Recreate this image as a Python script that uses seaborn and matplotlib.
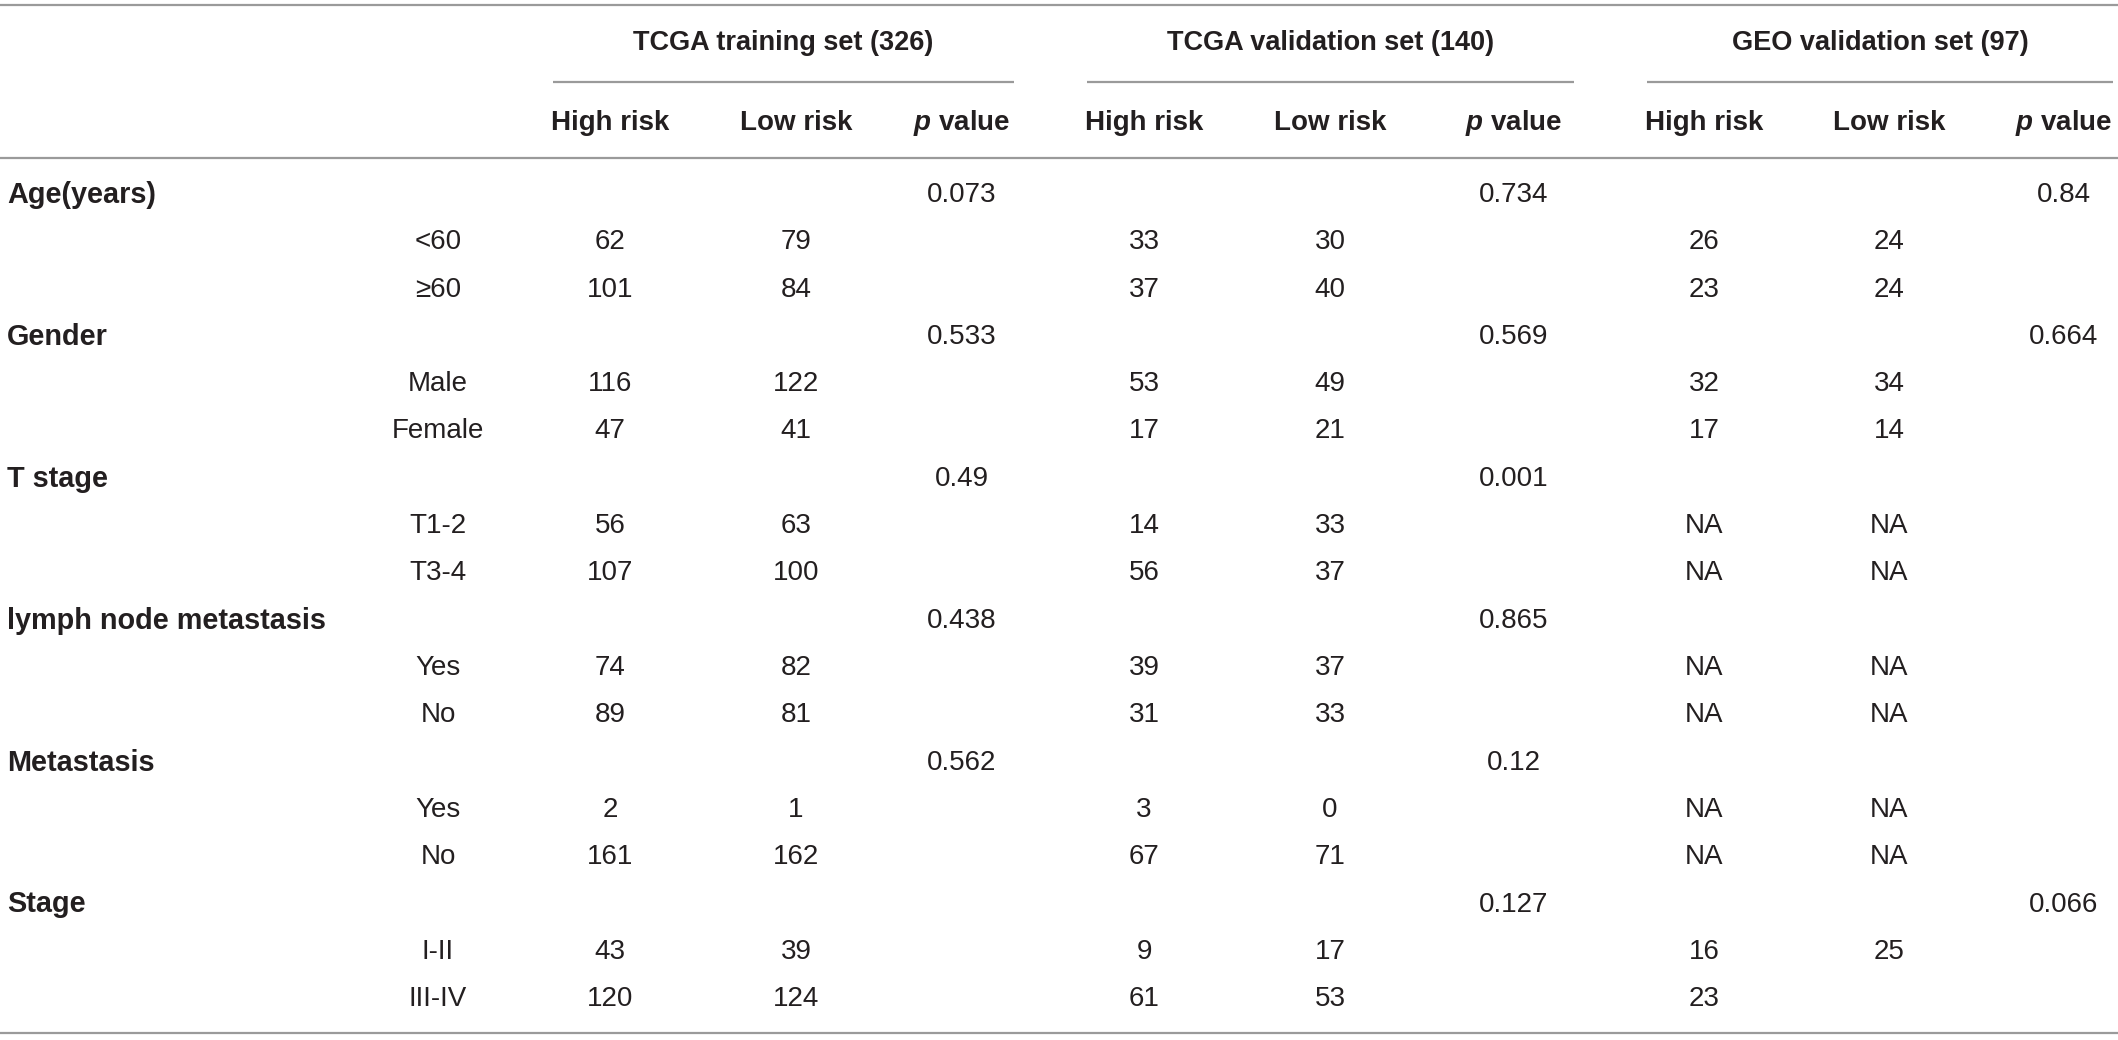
import matplotlib
matplotlib.use("Agg")
import matplotlib.pyplot as plt
import seaborn as sns
import pandas as pd

# ---------------- data ----------------
group_headers = ["TCGA training set (326)", "TCGA validation set (140)", "GEO validation set (97)"]
sub_headers = ["High risk", "Low risk", "$p$ value"]

variables = ["Age(years)", "Gender", "T stage", "lymph node metastasis", "Metastasis", "Stage"]
levels = [["<60", "≥60"], ["Male", "Female"], ["T1-2", "T3-4"], ["Yes", "No"], ["Yes", "No"], ["I-II", "III-IV"]]

train_p = ["0.073", "0.533", "0.49", "0.438", "0.562", ""]
valid_p = ["0.734", "0.569", "0.001", "0.865", "0.12", "0.127"]
geo_p = ["0.84", "0.664", "", "", "", "0.066"]

train_high = ["62", "101", "116", "47", "56", "107", "74", "89", "2", "161", "43", "120"]
train_low = ["79", "84", "122", "41", "63", "100", "82", "81", "1", "162", "39", "124"]
valid_high = ["33", "37", "53", "17", "14", "56", "39", "31", "3", "67", "9", "61"]
valid_low = ["30", "40", "49", "21", "33", "37", "37", "33", "0", "71", "17", "53"]
geo_high = ["26", "23", "32", "17", "NA", "NA", "NA", "NA", "NA", "NA", "16", "23"]
geo_low = ["24", "24", "34", "14", "NA", "NA", "NA", "NA", "NA", "NA", "25", ""]

# ---------------- build table ----------------
rows = []
k = 0
for i, var in enumerate(variables):
    rows.append(dict(label=var, level="", th="", tl="", tp=train_p[i], vh="", vl="", vp=valid_p[i],
                     gh="", gl="", gp=geo_p[i]))
    for lv in levels[i]:
        rows.append(dict(label="", level=lv, th=train_high[k], tl=train_low[k], tp="",
                         vh=valid_high[k], vl=valid_low[k], vp="", gh=geo_high[k], gl=geo_low[k],
                         gp=""))
        k += 1
df = pd.DataFrame(rows)

sns.set_theme(style="white")
plt.rcParams["font.family"] = ["Liberation Sans", "DejaVu Sans"]
plt.rcParams["mathtext.fontset"] = "custom"
plt.rcParams["mathtext.it"] = "Liberation Sans:italic:bold"
plt.rcParams["mathtext.rm"] = "Liberation Sans:bold"

W, H = 2118, 1040
fig = plt.figure(figsize=(W / 100, H / 100), dpi=100)
ax = fig.add_axes([0, 0, 1, 1])
ax.set_xlim(0, W)
ax.set_ylim(H, 0)
ax.axis("off")

txt = "#231f20"
line_c = "#9a9a9a"
fs_val = 20
fs_lab = 20.8
fs_sub = 20
fs_grp = 19.5

# column layout
label_x = 7
level_x = 438
col_x = {"th": 610, "tl": 796, "tp": 962,
         "vh": 1144, "vl": 1330, "vp": 1514,
         "gh": 1704, "gl": 1889, "gp": 2064}
seg = [(553, 1014), (1087, 1574), (1647, 2113)]
grp_x = [(a + b) / 2 for a, b in seg]

y_top, y_grp, y_seg, y_sub, y_hdr, y_bot = 5, 43, 82, 123, 158, 1033
y0, dy = 195, 47.3

# lines
for yy in (y_top, y_hdr, y_bot):
    ax.plot([0, W], [yy, yy], color=line_c, lw=1.6, solid_capstyle="butt")
for a, b in seg:
    ax.plot([a, b], [y_seg, y_seg], color=line_c, lw=1.6, solid_capstyle="butt")

# headers
for gx, g in zip(grp_x, group_headers):
    ax.text(gx, y_grp, g, ha="center", va="center", fontsize=fs_grp, fontweight="bold", color=txt)
keys = [["th", "tl", "tp"], ["vh", "vl", "vp"], ["gh", "gl", "gp"]]
for grp in keys:
    for key, s in zip(grp, sub_headers):
        ax.text(col_x[key], y_sub, s, ha="center", va="center", fontsize=fs_sub,
                fontweight="bold", color=txt)

# body
for r, row in df.iterrows():
    y = y0 + r * dy
    if row["label"]:
        ax.text(label_x, y, row["label"], ha="left", va="center", fontsize=fs_lab,
                fontweight="bold", color=txt)
    if row["level"]:
        ax.text(level_x, y, row["level"], ha="center", va="center", fontsize=fs_val, color=txt)
    for key in col_x:
        if row[key]:
            ax.text(col_x[key], y, row[key], ha="center", va="center", fontsize=fs_val, color=txt)

fig.savefig("out.png", dpi=100, facecolor="white")
